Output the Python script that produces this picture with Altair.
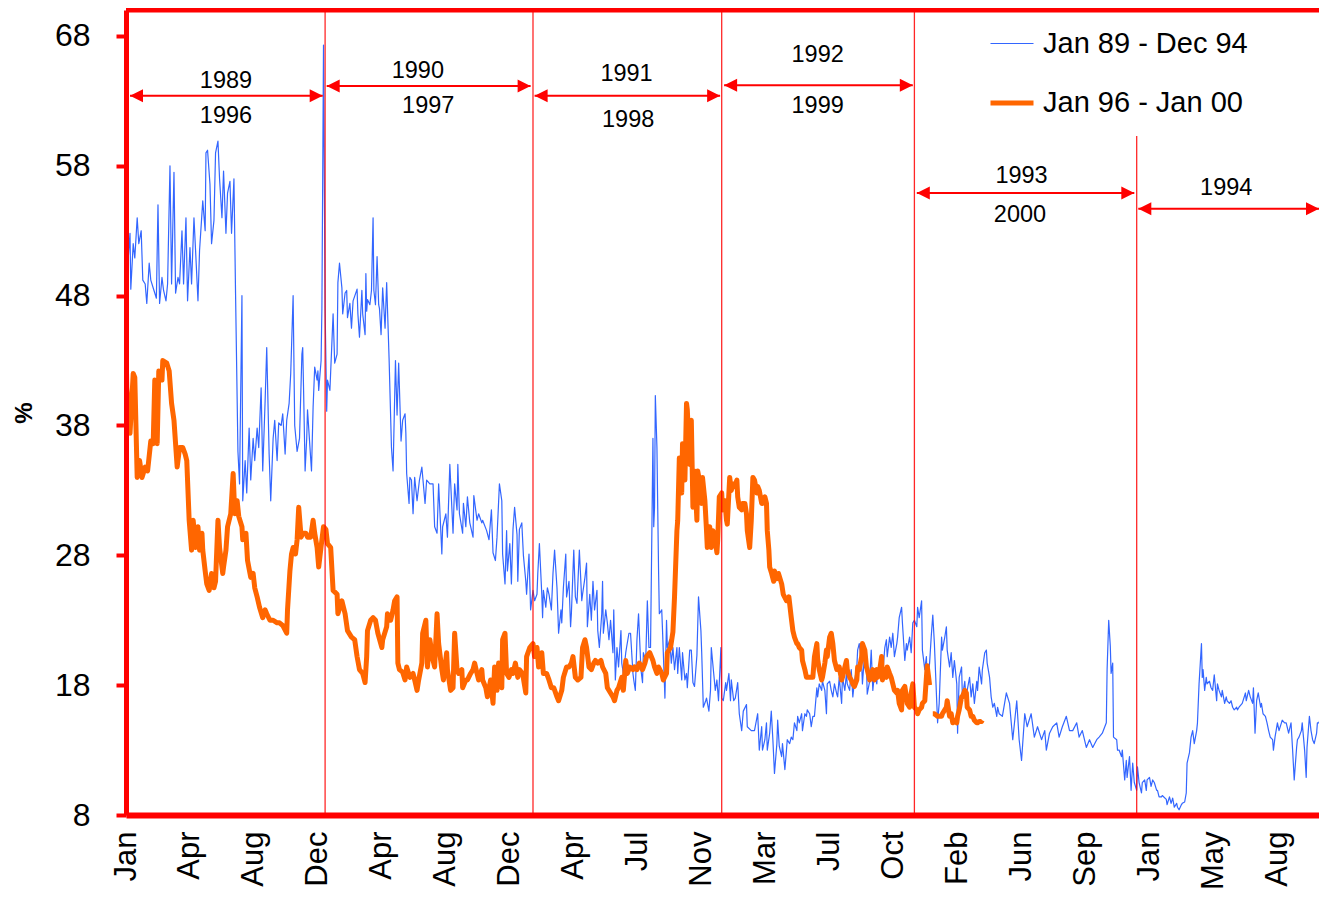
import json
import altair as alt
import pandas as pd

FONT = "Liberation Sans, Arial, Helvetica, sans-serif"

blue_label = "Jan 89 - Dec 94"
orange_label = "Jan 96 - Jan 00"

# (trading day since start of series, %)
blue_points = [
(0,53.8),(2,50.2),(5,52.8),(6,48.5),(9,52),(11,50.9),(14,54),(16,52),(19,53),(21,49.2),(24,48.9),(26,47.4),(29,50.5),(31,49.2),(35,48.4),(38,47.8),(40,55),(42,47.4),(45,49.4),(47,48.4),(50,47.6),(52,48.9),(55,58),(57,48.9),(60,57.5),(62,48.2),(65,49.4),(67,48.9),(70,53),(72,48.9),(75,54),(77,47.6),(80,51.7),(82,48.9),(85,54),(87,51.5),(90,47.6),(92,51.5),(96,55.3),(99,53),(100,59),(102,59.2),(105,56.6),(107,52),(110,53.8),(112,59),(115,59.9),(117,57),(120,54),(122,57.6),(125,52.8),(127,55.9),(130,56.8),(132,52.8),(135,57),(137,48.2),(140,36),(142,33.5),(145,48),(146,32.2),(149,35.3),(151,32.8),(154,37.8),(156,33.8),(159,37),(161,35.3),(164,37.8),(166,36.3),(169,40.9),(171,34.5),(174,39.9),(176,44),(179,35.8),(181,32.2),(184,37),(186,38.4),(189,35.3),(191,38.2),(194,38),(196,38.9),(199,35.8),(201,38.4),(204,39.7),(206,42),(209,48),(211,38),(214,36),(217,37),(220,43.5),(221,44),(222,41),(224,34.5),(226,37),(227,39.2),(232,34.5),(234,39.4),(236,42.5),(239,41.5),(240,42.2),(241,40.7),(244,43),(245,47),(246,57),(247,67.3),(249,47),(251,39.1),(252,41.5),(255,40.7),(259,46.6),(261,42.8),(264,43.5),(265,49),(267,50.5),(270,48.6),(271,46.6),(274,48.2),(276,48.4),(277,46.3),(280,47.4),(282,45.5),(284,47.6),(289,48.5),(290,46.6),(292,44.8),(295,48.4),(296,46.6),(299,45),(300,49.7),(301,46.8),(302,47.7),(305,47.3),(307,48.4),(309,54),(310,48.4),(312,47.3),(314,51),(316,47.3),(317,47),(319,45),(321,48.6),(324,45.5),(326,49),(329,43.2),(332,36.3),(334,34.5),(337,43),(339,38.8),(341,42.8),(344,36.8),(346,38.4),(349,38.9),(350,37.4),(351,34.3),(354,32),(355,34),(357,33.8),(359,31.2),(361,34),(364,32.2),(367,33.8),(370,34.8),(374,32),(376,33.8),(380,33.5),(384,33.5),(386,30.2),(389,29.7),(391,33.5),(395,28.1),(396,30.2),(400,31.2),(402,29.4),(405,35),(409,29.7),(411,33.5),(414,31.5),(415,35),(417,31.2),(421,29.7),(422,32),(425,30.2),(427,32.5),(430,30.5),(434,29.4),(435,32.6),(439,30.7),(441,31.2),(445,30.5),(446,30.7),(451,29.9),(454,29.2),(457,31.5),(459,28.2),(462,27.6),(464,29.4),(467,33.5),(470,32.2),(471,28.1),(474,25.8),(476,29.9),(477,26.8),(480,28.9),(482,25.8),(484,30),(486,31.7),(489,29.6),(490,26),(492,30),(495,30.5),(497,28),(500,26),(501,25),(504,28.1),(506,23.8),(509,25.3),(511,24.5),(514,25),(515,26.6),(517,28.9),(520,25),(521,23.2),(522,25.3),(525,24),(527,25.5),(529,25),(532,23.8),(534,26.6),(536,28.4),(539,25.5),(540,23.8),(541,22),(544,23.8),(545,22.8),(547,25.5),(550,28.1),(551,24.8),(554,26),(556,22.5),(557,23.5),(560,28.4),(562,24.8),(564,24.3),(567,28.4),(570,24.5),(571,25),(574,26.3),(576,27.4),(577,22.5),(580,25),(582,23),(584,26),(586,23.8),(589,25.3),(590,22.2),(592,20.9),(595,23.5),(596,26),(597,22),(600,23.8),(602,22.8),(604,21.5),(606,23),(609,20.5),(610,23.8),(612,18.4),(614,20.9),(616,19.4),(619,22.2),(620,19.7),(622,18.9),(625,20.5),(626,20.9),(629,22),(631,22),(634,18.9),(635,18.4),(637,17.6),(639,21.5),(641,23.5),(644,19.2),(646,18.2),(647,20.5),(650,19.9),(652,24.5),(654,20.9),(656,20.9),(659,37),(660,30.2),(661,31.7),(662,40.3),(664,36.3),(666,27),(667,23.5),(670,23.8),(671,22.2),(674,17),(676,23),(677,20.9),(680,21.5),(682,19.7),(684,20.9),(686,19.2),(689,20.9),(690,18.9),(692,20.9),(695,18.4),(696,20.5),(699,18.4),(701,18.9),(702,17.8),(705,20.7),(707,20.7),(709,18.2),(711,17.9),(714,20.3),(716,24.8),(719,22.2),(720,20.5),(722,16.3),(725,16.8),(726,17),(729,16),(731,17.6),(732,20.9),(735,18.9),(737,17.6),(739,18.4),(741,16.8),(744,20.9),(745,17),(747,16.8),(750,18.2),(751,17.6),(754,18.9),(756,16.8),(757,18.4),(760,16.8),(762,17),(765,18.2),(767,15.8),(770,14.5),(772,16),(776,16.5),(777,14.8),(782,14.5),(786,14.5),(790,15.8),(792,13),(795,14.8),(796,13),(799,13.8),(801,15.1),(802,13),(805,14.3),(807,16),(809,13.8),(811,11.2),(814,13.5),(815,15.3),(817,13.3),(820,12.5),(821,13.5),(824,11.5),(826,13),(827,13.8),(830,13.5),(832,14),(834,13.8),(836,15.1),(839,14.5),(840,15.6),(842,15.1),(845,15.8),(846,14.5),(849,15.8),(851,15.6),(852,16.1),(855,15.8),(857,14.8),(859,15.6),(861,15.6),(864,17.8),(865,17.1),(867,18.1),(870,17.6),(871,18.3),(874,17.6),(876,15.8),(877,18.1),(880,18.3),(882,17.6),(884,17.1),(886,18.1),(889,17.3),(890,17.1),(892,18.6),(895,16.6),(896,18.6),(899,17.6),(901,18.9),(902,18.1),(905,17.6),(907,19.2),(909,17.1),(911,18.3),(914,19.4),(915,20.7),(917,21.2),(920,19.7),(921,18.1),(924,20.7),(926,19.7),(927,17.3),(930,18.3),(932,20.7),(934,17.6),(936,18.9),(939,18.1),(940,19.2),(942,18.6),(945,20.2),(946,18.6),(949,20.9),(951,21.5),(952,20.2),(955,21.7),(957,20.9),(959,22),(961,20.2),(964,21.2),(965,21.7),(967,23.2),(970,24),(971,22.8),(974,19.9),(976,21.2),(977,20.7),(980,21.7),(982,20.5),(984,22.8),(986,23),(989,22.5),(990,24),(992,23.2),(995,24.5),(996,20.7),(999,19.2),(1001,20.2),(1002,18.1),(1005,19.7),(1007,21.7),(1009,23.4),(1011,21.2),(1014,16.6),(1015,15.1),(1017,16.6),(1020,21.7),(1021,20.7),(1024,21.7),(1026,22.5),(1027,20.7),(1030,19.4),(1032,20.5),(1034,18.6),(1036,19.9),(1039,18.1),(1040,14.3),(1042,18.6),(1045,19.4),(1046,17.1),(1049,18.3),(1051,16.6),(1052,17.6),(1055,18.6),(1057,17.1),(1059,18.1),(1061,16.6),(1064,18.3),(1065,17.6),(1067,19.4),(1070,18.1),(1071,19.2),(1074,20.5),(1076,20.7),(1077,19.7),(1080,18.6),(1082,17.1),(1084,16.3),(1086,16.6),(1089,15.6),(1090,16.3),(1092,15.8),(1096,15.6),(1101,17.4),(1105,16.6),(1109,13.8),(1114,16.8),(1117,13.8),(1120,12.2),(1124,15.8),(1127,14.8),(1132,15.8),(1136,14),(1140,14.8),(1145,13.8),(1149,14.5),(1151,13),(1155,14.3),(1159,14.8),(1164,15.1),(1167,14),(1171,14.8),(1176,15.6),(1180,14.5),(1184,14.5),(1189,15.1),(1192,14),(1196,14.5),(1201,13.2),(1205,13.8),(1209,13.2),(1214,13.8),(1217,14),(1221,14.3),(1226,15.1),(1227,19.2),(1229,23),(1231,21),(1232,18.9),(1234,19.7),(1235,14),(1239,13.8),(1240,13),(1242,13),(1245,12.5),(1246,13),(1249,10.7),(1251,12.2),(1252,10.9),(1255,12.5),(1257,9.9),(1259,12),(1261,10.5),(1264,9.9),(1265,11.7),(1267,10.5),(1270,9.7),(1271,10.5),(1274,10.7),(1276,9.9),(1277,10.7),(1280,10.9),(1282,10.2),(1284,10.7),(1286,10.5),(1289,9.9),(1290,9.9),(1292,9.4),(1295,9.4),(1296,9.5),(1301,9.2),(1302,8.8),(1305,9.4),(1307,8.9),(1309,9.3),(1311,8.6),(1314,8.9),(1315,8.6),(1317,8.4),(1320,8.8),(1321,8.9),(1324,9),(1326,9.7),(1327,12),(1330,12.8),(1332,14),(1334,14.5),(1336,13.5),(1339,14.5),(1340,15.1),(1342,18.1),(1345,21.2),(1346,18.6),(1347,19.2),(1349,17.6),(1351,18.6),(1352,18.1),(1355,18.3),(1357,17.8),(1359,17.6),(1361,18.8),(1364,16.8),(1365,18.1),(1367,17.6),(1370,17.1),(1371,17.6),(1374,16.6),(1376,17.1),(1377,16.8),(1380,16.6),(1382,16.8),(1384,16.3),(1386,16.1),(1389,16.3),(1390,16.1),(1392,16.3),(1396,16.6),(1400,17.4),(1401,16.8),(1404,17.6),(1406,17.1),(1409,16.6),(1410,17.8),(1412,14.3),(1414,16.8),(1416,17.4),(1419,16.3),(1420,16.6),(1422,15.8),(1425,15.6),(1427,15.1),(1429,14.5),(1431,14),(1434,13.8),(1435,13),(1437,14),(1440,15.1),(1442,14.5),(1445,15.1),(1446,15.3),(1449,15.1),(1451,15.1),(1454,14.3),(1457,15.1),(1459,13),(1461,10.7),(1464,13.2),(1465,13.8),(1467,14),(1470,14.5),(1471,15.1),(1474,13),(1476,10.9),(1477,13.2),(1480,15.6),(1482,14.5),(1484,13.8),(1486,13.5),(1489,14.3),(1490,15.1),(1492,15.1),(1495,15.8),(1496,16.1),(1499,9.9),(1501,12),
]

orange_points_a = [
(0,44.2),(1,40.9),(5,37.4),(9,42),(11,41.7),(14,34),(17,35.3),(20,34),(24,34.8),(27,34.5),(31,36.8),(34,36.6),(36,41.5),(39,36.6),(41,42.2),(45,41.5),(46,43),(51,42.8),(54,42.2),(57,39.7),(60,38.4),(64,34.8),(67,36.3),(71,36.3),(74,35.8),(76,35.3),(79,30.7),(82,28.4),(84,30.7),(87,28.6),(90,30.2),(92,28.4),(95,29.7),(96,28.4),(99,26.8),(101,25.8),(104,25.3),(107,26.6),(110,25.5),(112,26),(115,30.7),(117,28.6),(121,26.6),(122,27.1),(125,28.4),(127,30.2),(131,31.2),(134,34.3),(136,31.2),(139,32.2),(141,31),(145,30.2),(146,29.2),(150,29.7),(152,27.6),(156,26.3),(159,26.6),(161,25.5),(164,24.8),(167,24),(171,23.2),(174,23.8),(176,23.5),(180,23),(184,23),(189,22.8),(192,22.8),(196,22.6),(201,22),(202,23.8),(205,26.8),(207,28.1),(209,28.6),(212,28.1),(214,29.2),(216,31.7),(219,29.4),(221,29.7),(225,29.7),(227,29.4),(231,29.4),(234,30.7),(236,29.7),(239,28.6),(241,27.1),(245,29.2),(247,30.2),(250,30),(252,28.9),(256,28.6),(259,25.3),(264,25),(265,23.5),(270,24.5),(274,23.5),(277,22.2),(282,21.7),(286,21.5),(289,20.2),(292,19.2),(296,18.9),(299,18.2),(301,20.2),(302,22.2),(306,23),(309,23.2),(312,23),(315,22),(320,20.9),(321,21.5),(326,22.5),(327,23.5),(331,23),(334,23.8),(336,24.5),(339,24.8),(340,19.7),(342,19.2),(346,19),(349,18.4),(351,19.4),(355,18.6),(359,18.9),(361,18.4),(364,17.6),(366,18.4),(370,19.7),(371,22),(375,23),(377,19.4),(380,21.5),(384,19.9),(386,19.4),(389,23.5),(391,21.2),(395,19.2),(397,18.4),(401,20.5),(402,19.2),(406,17.6),(409,17.8),(411,22),(414,19.2),(416,18.9),(420,19.2),(421,17.8),(425,18.4),(427,18.4),(431,18.9),(434,19.2),(436,19.7),(439,18.9),(441,18.4),(445,19.2),(446,18.4),(450,17.8),(452,17.1),(456,18.4),(459,16.6),(461,19.4),(464,17.6),(466,19.7),(470,17.8),(471,21.5),(474,22),(476,18.9),(479,18.6),(482,19.2),(484,18.9),(487,19.7),(490,18.6),(492,19.2),(496,18.9),(500,17.4),(501,20.2),(505,20.9),(509,21.2),(511,20.2),(514,20.9),(516,19.4),(520,20.5),(522,18.9),(526,18.9),(529,18.4),(532,17.8),(535,17.8),(539,17.1),(541,16.8),(545,17.6),(547,18.6),(551,19.4),(554,19.4),(557,19.7),(559,20.2),(562,18.6),(565,18.4),(569,18.6),(571,20.9),(574,21.5),(576,20.9),(579,19.4),(582,19.2),(585,19.7),(587,19.9),(590,19.7),(594,19.9),(596,19.4),(600,18.9),(602,17.8),(606,17.4),(609,17.1),(611,16.8),(614,17.6),(616,17.8),(620,18.6),(622,17.6),(625,19.9),(627,18.9),(630,19.4),(634,19.2),(636,19.4),(639,19.2),(642,19.7),(646,19.2),(649,19.7),(651,20.2),(655,20.5),(659,19.9),(661,19.4),(664,18.9),(666,19.4),(670,18.9),(672,18.4),(676,18.9),(677,20.5),(681,20.9),(684,22.1),(686,24.8),(689,29.9),(690,30.7),(692,35.5),(695,32.8),(696,36.6),(699,33.8),(701,39.7),(702,39.2),(705,35),(707,38.4),(709,31.7),(711,34.5),(714,30.7),(715,34.5),(717,33.8),(720,32),(721,34),(724,32.2),(726,29.9),(727,28.6),(730,30.2),(732,28.6),(734,29.9),(736,29.6),(739,28.2),(740,29.2),(742,32.5),(745,32.8),(746,31.5),(749,32.2),(751,30.7),(752,30.4),(755,34),(757,33),(759,33.5),(761,33.3),(764,33.8),(765,32.5),(767,31.7),(770,31.5),(771,32),(774,32),(776,31.2),(777,29.9),(780,28.6),(782,30.7),(784,34),(786,33.8),(789,32.8),(790,33.3),(792,33),(795,32),(796,32),(799,32.5),(801,32),(802,29.9),(804,28.4),(805,27.1),(807,26.7),(810,26),(811,26.8),(814,26.2),(816,26.6),(820,25.8),(822,25),(826,24.5),(829,24.8),(832,23.2),(834,22.2),(836,21.7),(839,21.2),(840,21.2),(842,20.9),(845,20.7),(846,19.9),(849,19.2),(851,18.6),(855,18.6),(859,18.6),(861,20.2),(864,21.2),(865,20),(867,19.2),(870,18.4),(871,18.6),(874,19.7),(876,20.7),(877,20.2),(880,21.7),(882,22),(884,21.2),(886,19.9),(889,19.2),(890,19.2),(892,19.4),(895,18.4),(896,18.6),(899,19.4),(901,19.9),(902,19.2),(905,18.6),(907,18.4),(909,18.1),(911,17.9),(914,18.4),(915,19.4),(917,19.2),(920,20.2),(921,21.2),(924,20.7),(926,19.4),(927,19.2),(930,18.4),(932,18.6),(934,19.2),(936,18.4),(939,19.2),(940,18.6),(942,18.9),(945,20.2),(946,18.4),(949,19.2),(951,18.6),(952,19.4),(955,18.9),(957,18.6),(959,18.1),(961,17.6),(964,17.4),(965,17.6),(967,16.6),(970,16.1),(971,17.6),(974,17.9),(976,17.1),(977,16.6),(980,16.3),(982,17.4),(984,18.1),(986,16.3),(989,16.1),(990,15.8),(992,16.1),(995,16.3),(996,16.6),(999,16.8),(1001,18.6),(1002,19.5),(1005,18),
]
orange_points_b = [
(1009,15.8),(1011,15.8),(1015,15.6),(1020,15.6),(1021,15.8),(1024,16.1),(1026,16.3),(1027,16.8),(1030,15.6),(1032,15.8),(1034,15.1),(1036,15.3),(1039,15.1),(1040,15.6),(1042,16.1),(1045,17.1),(1046,17.1),(1049,17.6),(1051,17.4),(1052,16.3),(1055,16.1),(1057,15.6),(1059,15.6),(1061,15.3),(1064,15.1),(1065,15.1),(1067,15.2),(1070,15.2),(1071,15.3),
]

month_labels = ["Jan", "Apr", "Aug", "Dec", "Apr", "Aug", "Dec", "Apr", "Jul", "Nov",
                "Mar", "Jul", "Oct", "Feb", "Jun", "Sep", "Jan", "May", "Aug"]
label_every = 80
x_max = 1492
y_min, y_max = 8, 70
y_ticks = [8, 18, 28, 38, 48, 58, 68]

divider_day = [249, 509, 745, 986, 1264]
divider_top = [70, 70, 70, 70, 60.3]

arrow_from = [5, 251, 511, 748, 989, 1266]
arrow_to = [246, 506, 743, 984, 1261, 1492]
arrow_level = [63.4, 64.15, 63.4, 64.2, 55.9, 54.7]

upper_years = ["1989", "1990", "1991", "1992", "1993", "1994"]
upper_day = [125, 365, 626, 865, 1120, 1376]
upper_level = [64.5, 65.3, 65.1, 66.5, 57.2, 56.3]
lower_years = ["1996", "1997", "1998", "1999", "2000"]
lower_day = [125, 378, 628, 865, 1118]
lower_level = [61.8, 62.6, 61.5, 62.6, 54.2]

# ---------------- data frames ----------------
blue_df = pd.DataFrame(blue_points, columns=["day", "value"])
blue_df["series"] = blue_label
blue_df["piece"] = 0
oa = pd.DataFrame(orange_points_a, columns=["day", "value"]); oa["piece"] = 1
ob = pd.DataFrame(orange_points_b, columns=["day", "value"]); ob["piece"] = 2
orange_df = pd.concat([oa, ob], ignore_index=True)
orange_df["series"] = orange_label

div_df = pd.DataFrame({"day": divider_day, "value": divider_top, "base": [y_min] * len(divider_day)})
arrow_df = pd.DataFrame({"day": arrow_from, "day_end": arrow_to, "value": arrow_level})
lhead_df = pd.DataFrame({"day": arrow_from, "value": arrow_level})
rhead_df = pd.DataFrame({"day": arrow_to, "value": arrow_level})
text_df = pd.DataFrame({
    "day": upper_day + lower_day,
    "value": upper_level + lower_level,
    "label": upper_years + lower_years,
})
top_df = pd.DataFrame({"value": [y_max]})

# ---------------- scales / axes ----------------
x_scale = alt.Scale(domain=[0, x_max], nice=False, zero=False)
y_scale = alt.Scale(domain=[y_min, y_max], nice=False, zero=False)

x_axis = alt.Axis(
    values=[i * label_every for i in range(len(month_labels))],
    labelExpr=f"{json.dumps(month_labels)}[round(datum.value / {label_every})]",
    labelAngle=270, labelAlign="right", labelBaseline="middle",
    labelFontSize=31, labelFont=FONT, labelColor="black", labelPadding=16,
    labelFlush=False, labelOverlap=False, labelBound=False,
    ticks=False, domainColor="red", domainWidth=6, grid=False, title=None, zindex=1,
)
y_axis = alt.Axis(
    values=y_ticks, title="%", titleFontSize=24, titleFont=FONT, titleFontWeight="bold",
    titleColor="black", titlePadding=18,
    labelFontSize=32, labelFont=FONT, labelColor="black", labelPadding=26,
    tickSize=10, tickWidth=4, tickColor="red", domainColor="red", domainWidth=5,
    grid=False, zindex=1,
)


def X(field="day:Q"):
    return alt.X(field, scale=x_scale, axis=x_axis)


def Y(field="value:Q"):
    return alt.Y(field, scale=y_scale, axis=y_axis)


legend = alt.Legend(
    title=None, orient="none", legendX=862, legendY=11, symbolType="stroke",
    symbolSize=1849, labelFontSize=29, labelFont=FONT, labelColor="black",
    labelOffset=7, rowPadding=20, padding=0, labelLimit=500,
)
color = alt.Color("series:N", scale=alt.Scale(domain=[blue_label, orange_label],
                                              range=["#3366ff", "#ff6600"]), legend=legend)
swidth = alt.StrokeWidth("series:N", scale=alt.Scale(domain=[blue_label, orange_label],
                                                     range=[1.2, 5]), legend=legend)

blue_line = alt.Chart(blue_df).mark_line(clip=True, strokeJoin="round").encode(
    x=X(), y=Y(), color=color, strokeWidth=swidth, detail="piece:N")
orange_line = alt.Chart(orange_df).mark_line(clip=True, strokeJoin="round").encode(
    x=X(), y=Y(), color=color, strokeWidth=swidth, detail="piece:N")

dividers = alt.Chart(div_df).mark_rule(color="red", strokeWidth=1.3, opacity=0.85).encode(
    x=X(), y=Y(), y2="base:Q")
arrows = alt.Chart(arrow_df).mark_rule(color="red", strokeWidth=2).encode(
    x=X(), x2="day_end:Q", y=Y())
lheads = alt.Chart(lhead_df).mark_point(
    shape="M0,0L2,-1L2,1Z", filled=True, color="red", size=169, opacity=1).encode(x=X(), y=Y())
rheads = alt.Chart(rhead_df).mark_point(
    shape="M0,0L-2,-1L-2,1Z", filled=True, color="red", size=169, opacity=1).encode(x=X(), y=Y())
texts = alt.Chart(text_df).mark_text(fontSize=23.5, font=FONT, color="black",
                                     align="center", baseline="middle").encode(
    x=X(), y=Y(), text="label:N")
top_border = alt.Chart(top_df).mark_rule(color="red", strokeWidth=5).encode(y=Y())

chart = alt.layer(
    blue_line, orange_line, dividers, arrows, lheads, rheads, texts, top_border
).properties(
    width=1193, height=805,
    autosize=alt.AutoSizeParams(type="none"),
    padding={"left": 118, "top": 2, "right": 0, "bottom": 75},
).configure_view(stroke=None).configure(font=FONT)

chart.save("out.html", embed_options={"renderer": "svg", "actions": False})
